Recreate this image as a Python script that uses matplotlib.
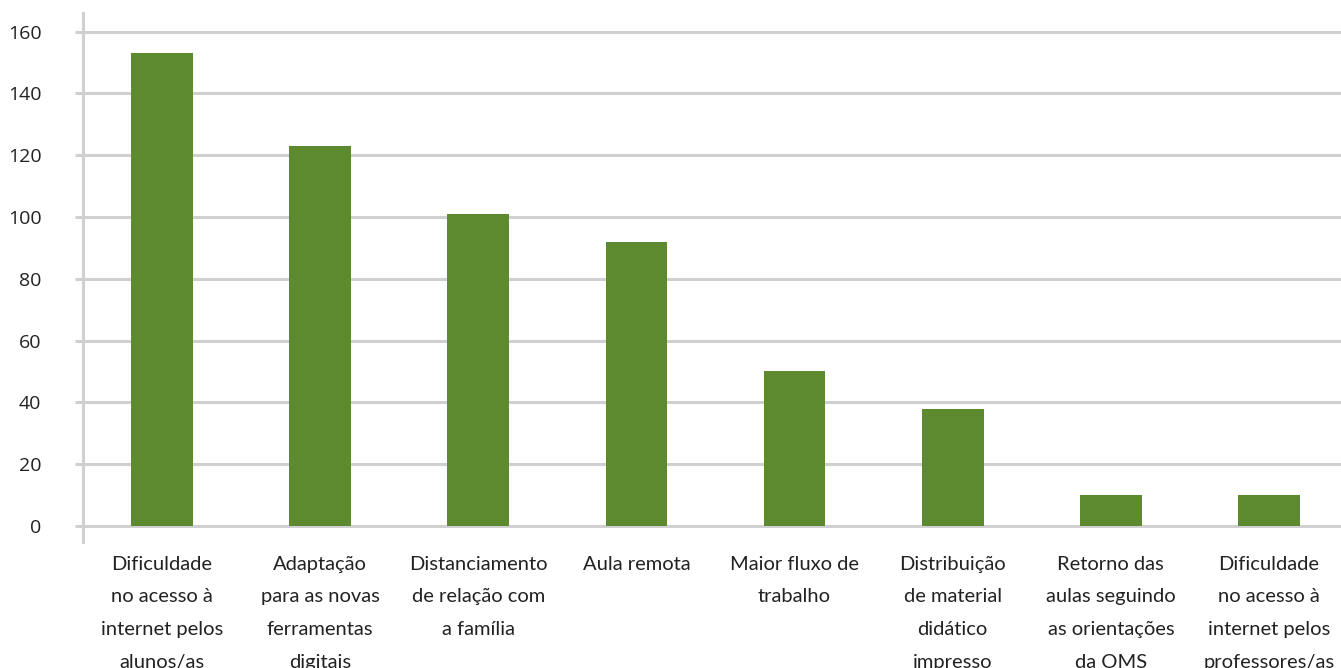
import matplotlib.pyplot as plt
import numpy as np

# Data
categories = [
    "Dificuldade\nno acesso à\ninternet pelos\nalunos/as",
    "Adaptação\npara as novas\nferramentas\ndigitais",
    "Distanciamento\nde relação com\na família",
    "Aula remota",
    "Maior fluxo de\ntrabalho",
    "Distribuição\nde material\ndidático\nimpresso",
    "Retorno das\naulas seguindo\nas orientações\nda OMS",
    "Dificuldade\nno acesso à\ninternet pelos\nprofessores/as",
]
values = [153, 123, 101, 92, 50, 38, 10, 10]
yticks = [0, 20, 40, 60, 80, 100, 120, 140, 160]

bar_color = "#5d8a2f"
grid_color = "#d0d0d0"

fig = plt.figure(figsize=(13.41, 6.68), dpi=100)
ax = fig.add_axes([83 / 1341, 1 - 541.7 / 668, (1348 - 83) / 1341, (541.7 - 13) / 668])

x = np.arange(len(categories))
ax.bar(x, values, width=0.39, color=bar_color, zorder=3)

ax.set_xlim(-0.5, len(categories) - 0.5)
ax.set_ylim(-5.1, 166)

ax.set_yticks(yticks)
ax.set_yticklabels([str(v) for v in yticks], fontsize=14, family="Open Sans", color="#222222")
ax.yaxis.grid(True, color=grid_color, linewidth=2.2, zorder=0)
ax.tick_params(axis="y", length=6, width=2.2, color=grid_color, pad=24)

ax.set_xticks(x)
ax.set_xticklabels(categories, fontsize=14.5, family="Lato", color="#222222", linespacing=2.12, va="top")
ax.tick_params(axis="x", length=0, pad=10)

for side in ["top", "right", "bottom"]:
    ax.spines[side].set_visible(False)
ax.spines["left"].set_color(grid_color)
ax.spines["left"].set_linewidth(2.2)

plt.savefig("out.png", dpi=100)
